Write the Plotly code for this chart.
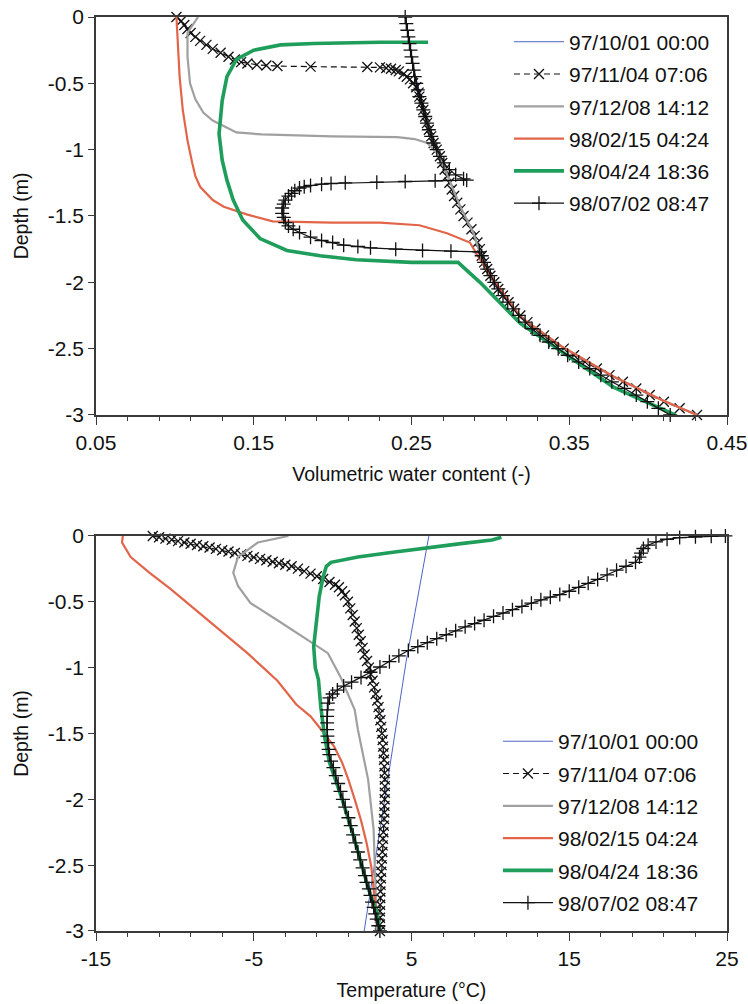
import plotly.graph_objects as go

labels = ["97/10/01 00:00", "97/11/04 07:06", "97/12/08 14:12",
          "98/02/15 04:24", "98/04/24 18:36", "98/07/02 08:47"]

# ---------------- top chart: volumetric water content vs depth ----------------
wc_blue_d = [0, -0.38, -0.63, -0.87, -1.05, -1.23, -1.43, -1.62, -1.82, -2.0, -2.26, -2.49, -2.71, -2.89, -3.0]
wc_blue = [0.246, 0.251, 0.2567, 0.262, 0.268, 0.274, 0.281, 0.289, 0.2945, 0.3025, 0.319, 0.346, 0.378, 0.409, 0.431]

wc_nov_d = [0, -0.03, -0.06, -0.09, -0.12, -0.15, -0.18, -0.21, -0.24, -0.27, -0.30, -0.32, -0.34, -0.35,
            -0.36, -0.365, -0.37, -0.374, -0.377, -0.38, -0.385, -0.39, -0.40, -0.41, -0.43, -0.45, -0.47,
            -0.50, -0.53, -0.57, -0.60, -0.65, -0.70, -0.75, -0.80, -0.85, -0.90, -0.95, -1.00, -1.05,
            -1.10, -1.15, -1.20, -1.25, -1.30, -1.35, -1.40, -1.45, -1.50, -1.55, -1.60, -1.65, -1.70,
            -1.75, -1.80, -1.85, -1.90, -1.95, -2.00, -2.05, -2.10, -2.15, -2.20, -2.25, -2.30, -2.35,
            -2.40, -2.45, -2.50, -2.55, -2.60, -2.65, -2.70, -2.75, -2.80, -2.85, -2.90, -2.95, -3.00]
wc_nov = [0.101, 0.104, 0.106, 0.108, 0.110, 0.113, 0.116, 0.120, 0.124, 0.129, 0.134, 0.138, 0.142, 0.146,
          0.152, 0.158, 0.165, 0.186, 0.222, 0.230, 0.234, 0.237, 0.240, 0.242, 0.245, 0.247, 0.249,
          0.251, 0.253, 0.2545, 0.255, 0.2563, 0.2575, 0.2587, 0.2598, 0.261, 0.2625, 0.264, 0.266, 0.268,
          0.2695, 0.271, 0.2725, 0.274, 0.2755, 0.277, 0.279, 0.281, 0.283, 0.2855, 0.288, 0.290, 0.2918,
          0.2933, 0.2945, 0.296, 0.298, 0.300, 0.3025, 0.305, 0.308, 0.3115, 0.315, 0.319, 0.3235, 0.3285,
          0.334, 0.340, 0.3465, 0.353, 0.360, 0.3675, 0.3755, 0.384, 0.3925, 0.401, 0.410, 0.420, 0.431]

wc_dec_d = [0, -0.12, -0.3, -0.5, -0.62, -0.72, -0.78, -0.87, -0.885, -0.89, -0.9, -0.905, -0.92, -0.95,
            -1.0, -1.05, -1.23, -1.43, -1.62, -1.82, -2.0, -2.26, -2.49, -2.71, -2.89, -3.0]
wc_dec = [0.1147, 0.108, 0.108, 0.1096, 0.113, 0.118, 0.124, 0.139, 0.155, 0.167, 0.2, 0.241, 0.252, 0.26,
          0.264, 0.268, 0.274, 0.281, 0.289, 0.2945, 0.3025, 0.319, 0.346, 0.378, 0.409, 0.431]

wc_feb_d = [0, -0.2, -0.45, -0.7, -0.93, -1.1, -1.2, -1.28, -1.33, -1.38, -1.43, -1.49, -1.54, -1.55, -1.55,
            -1.57, -1.63, -1.70, -1.82, -1.98, -2.26, -2.49, -2.71, -2.89, -3.0]
wc_feb = [0.101, 0.102, 0.103, 0.105, 0.108, 0.111, 0.113, 0.116, 0.120, 0.124, 0.131, 0.146, 0.162, 0.2, 0.23,
          0.255, 0.2725, 0.287, 0.293, 0.302, 0.319, 0.346, 0.378, 0.409, 0.431]

wc_apr_d = [-0.19, -0.19, -0.2, -0.21, -0.25, -0.32, -0.45, -0.63, -0.88, -1.08, -1.23, -1.38, -1.53, -1.67,
            -1.76, -1.80, -1.83, -1.85, -1.85, -2.0, -2.31, -2.53, -2.79, -3.0]
wc_apr = [0.2605, 0.23, 0.188, 0.167, 0.150, 0.139, 0.133, 0.130, 0.128, 0.130, 0.133, 0.137, 0.143, 0.154,
          0.171, 0.192, 0.215, 0.25, 0.2795, 0.2934, 0.319, 0.346, 0.378, 0.417]

wc_jul_d = [0, -0.05, -0.1, -0.15, -0.2, -0.25, -0.3, -0.35, -0.4, -0.45, -0.5, -0.55, -0.6, -0.65, -0.7,
            -0.75, -0.8, -0.85, -0.9, -0.95, -1.0, -1.05, -1.1, -1.15, -1.19, -1.22, -1.23,
            -1.235, -1.24, -1.245, -1.25, -1.255, -1.26, -1.27, -1.28, -1.29, -1.31, -1.33, -1.35, -1.38,
            -1.41, -1.44, -1.48, -1.51, -1.55, -1.575, -1.60, -1.625, -1.66, -1.685, -1.70, -1.72, -1.73,
            -1.74, -1.75, -1.76, -1.765, -1.77, -1.80, -1.85, -1.9, -1.95, -2.0, -2.05, -2.1, -2.15, -2.2,
            -2.25, -2.3, -2.35, -2.4, -2.45, -2.5, -2.55, -2.6, -2.65, -2.7, -2.75, -2.8, -2.85, -2.9,
            -2.95, -3.0]
wc_jul = [0.246, 0.2467, 0.2474, 0.248, 0.2487, 0.2494, 0.250, 0.2507, 0.2514, 0.252, 0.253, 0.254, 0.255,
          0.2563, 0.2575, 0.2587, 0.2598, 0.261, 0.2625, 0.264, 0.266, 0.268, 0.2705, 0.274, 0.278, 0.283,
          0.285, 0.265, 0.246, 0.228, 0.208, 0.199, 0.193, 0.186, 0.182, 0.179, 0.176, 0.174, 0.172, 0.170,
          0.169, 0.168, 0.168, 0.169, 0.170, 0.172, 0.175, 0.179, 0.186, 0.193, 0.2, 0.207, 0.216, 0.224,
          0.240, 0.257, 0.275, 0.293, 0.2945, 0.296, 0.298, 0.300, 0.3025, 0.305, 0.308, 0.311, 0.3145,
          0.318, 0.322, 0.3265, 0.3315, 0.337, 0.343, 0.349, 0.356, 0.363, 0.370, 0.377, 0.385, 0.3925,
          0.3995, 0.4065, 0.414]

# ---------------- bottom chart: temperature vs depth ----------------
t_blue_d = [0, -0.96, -1.77, -3.0]
t_blue = [6.1, 4.65, 3.6, 2.0]

t_nov_d = [0, -0.01, -0.02, -0.029, -0.039, -0.049, -0.059, -0.068, -0.078, -0.088, -0.098, -0.108,
           -0.118, -0.129, -0.14, -0.151, -0.162, -0.174, -0.185, -0.196, -0.207, -0.219, -0.23, -0.248,
           -0.267, -0.286, -0.306, -0.327, -0.349, -0.37, -0.39, -0.42, -0.45, -0.50, -0.55, -0.60, -0.65,
           -0.70, -0.75, -0.80, -0.85, -0.90, -0.95, -1.00, -1.05, -1.10, -1.15, -1.20, -1.25, -1.30, -1.35,
           -1.40, -1.45, -1.50, -1.55, -1.60, -1.65, -1.70, -1.75, -1.80, -1.85, -1.90, -1.95, -2.00, -2.05,
           -2.10, -2.15, -2.20, -2.25, -2.30, -2.35, -2.40, -2.45, -2.50, -2.55, -2.60, -2.65, -2.70, -2.75,
           -2.80, -2.85, -2.90, -2.95, -3.00]
t_nov = [-11.4, -11.0, -10.6, -10.2, -9.8, -9.4, -9.0, -8.6, -8.2, -7.8, -7.4, -7.0, -6.6, -6.2, -5.8, -5.4,
         -5.0, -4.6, -4.2, -3.8, -3.4, -3.0, -2.6, -2.2, -1.8, -1.4, -1.0, -0.6, -0.2, 0.15, 0.4, 0.6, 0.78,
         0.97, 1.12, 1.27, 1.4, 1.53, 1.66, 1.78, 1.9, 2.03, 2.18, 2.3, 2.42, 2.53, 2.63, 2.73, 2.83, 2.91,
         2.97, 3.03, 3.08, 3.13, 3.17, 3.2, 3.23, 3.26, 3.28, 3.3, 3.31, 3.31, 3.31, 3.3, 3.29, 3.28, 3.26,
         3.24, 3.22, 3.19, 3.17, 3.15, 3.12, 3.1, 3.08, 3.06, 3.04, 3.03, 3.02, 3.01, 3.0, 3.0, 3.0, 3.0]

t_dec_d = [0, -0.05, -0.16, -0.28, -0.38, -0.51, -0.64, -0.79, -0.89, -1.07, -1.32, -1.47, -1.85, -2.23, -2.61, -3.0]
t_dec = [-2.8, -4.75, -6.0, -6.3, -6.0, -5.2, -3.5, -1.6, -0.3, 0.5, 1.4, 1.6, 2.25, 2.6, 2.7, 2.8]

t_feb_d = [0, -0.05, -0.16, -0.28, -0.4, -0.53, -0.66, -0.78, -0.89, -1.0, -1.1, -1.28, -1.37, -1.47, -1.6,
           -1.72, -1.85, -2.0, -2.16, -2.33, -2.51, -2.74, -3.0]
t_feb = [-13.3, -13.35, -12.8, -11.6, -10.3, -9.0, -7.7, -6.5, -5.4, -4.4, -3.5, -2.3, -1.4, -0.73, 0.1,
         0.6, 1.0, 1.4, 1.8, 2.15, 2.45, 2.65, 3.0]

t_apr_d = [-0.01, -0.03, -0.06, -0.09, -0.125, -0.16, -0.185, -0.2, -0.23, -0.31, -0.46, -0.71, -0.84, -1.0,
           -1.09, -1.3, -1.53, -1.72, -1.98, -2.23, -2.48, -2.69, -2.86, -3.0]
t_apr = [10.7, 10.1, 8.0, 5.8, 3.7, 1.6, 0.4, -0.1, -0.4, -0.6, -0.85, -1.05, -1.2, -1.1, -0.9, -0.75, -0.5,
         -0.2, 0.55, 1.2, 1.8, 2.3, 2.8, 3.0]

t_jul_d = [0, -0.002, -0.006, -0.012, -0.025, -0.045, -0.07, -0.095, -0.13, -0.16, -0.2, -0.23, -0.26,
           -0.295, -0.33, -0.36, -0.39, -0.42, -0.445, -0.465, -0.485, -0.51, -0.535, -0.56, -0.585, -0.61,
           -0.64, -0.665, -0.69, -0.72, -0.75, -0.78, -0.81, -0.84, -0.87, -0.91, -0.955, -0.995, -1.035,
           -1.075, -1.11, -1.14, -1.17, -1.2, -1.23, -1.27, -1.32, -1.37, -1.42, -1.47, -1.52, -1.57, -1.62,
           -1.66, -1.71, -1.76, -1.82, -1.88, -1.94, -2.0, -2.06, -2.14, -2.2, -2.27, -2.33, -2.4, -2.46,
           -2.52, -2.58, -2.63, -2.68, -2.73, -2.78, -2.82, -2.87, -2.91, -2.96, -3.0]
t_jul = [24.9, 24.0, 23.0, 22.0, 21.2, 20.5, 20.0, 19.7, 19.55, 19.45, 19.2, 18.6, 18.0, 17.4, 16.8, 16.2,
         15.6, 15.0, 14.4, 13.8, 13.2, 12.6, 12.0, 11.4, 10.8, 10.2, 9.6, 9.0, 8.4, 7.8, 7.2, 6.6, 6.0, 5.4,
         4.8, 4.2, 3.6, 3.0, 2.4, 1.8, 1.2, 0.7, 0.3, 0.0, -0.2, -0.3, -0.33, -0.35, -0.35, -0.35, -0.33,
         -0.3, -0.25, -0.2, -0.1, 0.05, 0.2, 0.35, 0.5, 0.65, 0.8, 1.0, 1.15, 1.3, 1.45, 1.6, 1.75, 1.9,
         2.05, 2.15, 2.3, 2.4, 2.5, 2.6, 2.7, 2.8, 2.9, 3.0]

y_tickvals = [0, -0.5, -1, -1.5, -2, -2.5, -3]
y_ticktext = ["0", "-0.5", "-1", "-1.5", "-2", "-2.5", "-3"]
wc_tickvals = [0.05, 0.15, 0.25, 0.35, 0.45]
wc_ticktext = ["0.05", "0.15", "0.25", "0.35", "0.45"]
t_tickvals = [-15, -5, 5, 15, 25]
t_ticktext = ["-15", "-5", "5", "15", "25"]

BLUE = "#4f63c6"
GRAY = "#a0a0a0"
RED = "#e2654a"
GREEN = "#1e9e5a"
BLACK = "#111111"

styles = [
    dict(mode="lines", line=dict(color=BLUE, width=1)),
    dict(mode="lines+markers", line=dict(color=BLACK, width=1.2, dash="6px,4px"),
         marker=dict(symbol="x-thin", size=10, line=dict(color=BLACK, width=1.3))),
    dict(mode="lines", line=dict(color=GRAY, width=2.2)),
    dict(mode="lines", line=dict(color=RED, width=2.2)),
    dict(mode="lines", line=dict(color=GREEN, width=3.6)),
    dict(mode="lines+markers", line=dict(color=BLACK, width=1.2),
         marker=dict(symbol="cross-thin", size=10, line=dict(color=BLACK, width=1.3))),
]

top_series = [(wc_blue, wc_blue_d), (wc_nov, wc_nov_d), (wc_dec, wc_dec_d),
              (wc_feb, wc_feb_d), (wc_apr, wc_apr_d), (wc_jul, wc_jul_d)]
bot_series = [(t_blue, t_blue_d), (t_nov, t_nov_d), (t_dec, t_dec_d),
              (t_feb, t_feb_d), (t_apr, t_apr_d), (t_jul, t_jul_d)]

fig = go.Figure()
for i, (xv, yv) in enumerate(top_series):
    fig.add_trace(go.Scatter(x=xv, y=yv, name=labels[i], xaxis="x", yaxis="y",
                             legend="legend", legendgroup="a%d" % i, cliponaxis=False, **styles[i]))
for i, (xv, yv) in enumerate(bot_series):
    fig.add_trace(go.Scatter(x=xv, y=yv, name=labels[i], xaxis="x2", yaxis="y2",
                             legend="legend2", legendgroup="b%d" % i, cliponaxis=False, **styles[i]))

FONT = "Liberation Sans, Arial, sans-serif"
axis_common = dict(showline=True, mirror=True, linecolor="#3a3a3a", linewidth=1.5,
                   showgrid=False, zeroline=False, ticks="outside", tickcolor="#3a3a3a",
                   tickwidth=1.2, tickfont=dict(size=21, color="#111"), automargin=False)

fig.update_layout(
    width=748, height=1004,
    margin=dict(l=96, r=21, t=17, b=73, autoexpand=False),
    paper_bgcolor="white", plot_bgcolor="white",
    font=dict(family=FONT, size=20, color="#111"),
    xaxis=dict(domain=[0, 1], anchor="y", range=[0.05, 0.45], tickmode="array",
               tickvals=wc_tickvals, ticktext=wc_ticktext, ticklen=8,
               minor=dict(tickmode="linear", tick0=0.05, dtick=0.02, ticks="outside",
                          ticklen=4, tickcolor="#3a3a3a"),
               title=dict(text="Volumetric water content (-)", font=dict(size=19.5), standoff=14),
               **axis_common),
    yaxis=dict(domain=[0.5646, 1], anchor="x", range=[-3, 0], tickmode="array",
               tickvals=y_tickvals, ticktext=y_ticktext, ticklen=6,
               title=dict(text="Depth (m)", font=dict(size=19.5), standoff=14),
               **axis_common),
    xaxis2=dict(domain=[0, 1], anchor="y2", range=[-15, 25], tickmode="array",
                tickvals=t_tickvals, ticktext=t_ticktext, ticklen=8,
                minor=dict(tickmode="linear", tick0=-15, dtick=2, ticks="outside",
                           ticklen=4, tickcolor="#3a3a3a"),
                title=dict(text="Temperature (°C)", font=dict(size=19.5), standoff=14),
                **axis_common),
    yaxis2=dict(domain=[0, 0.4322], anchor="x2", range=[-3, 0], tickmode="array",
                tickvals=y_tickvals, ticktext=y_ticktext, ticklen=6,
                title=dict(text="Depth (m)", font=dict(size=19.5), standoff=14),
                **axis_common),
    legend=dict(x=0.6545, y=0.995, xanchor="left", yanchor="top", bgcolor="rgba(0,0,0,0)",
                font=dict(size=21, color="#111"), itemwidth=50, tracegroupgap=2),
    legend2=dict(x=0.637, y=0.2297, xanchor="left", yanchor="top", bgcolor="rgba(0,0,0,0)",
                 font=dict(size=21, color="#111"), itemwidth=50, tracegroupgap=2),
)

fig.write_html("out.html", config={"displayModeBar": False},
               post_script="document.body.style.margin='0px';document.body.style.overflow='hidden';")
